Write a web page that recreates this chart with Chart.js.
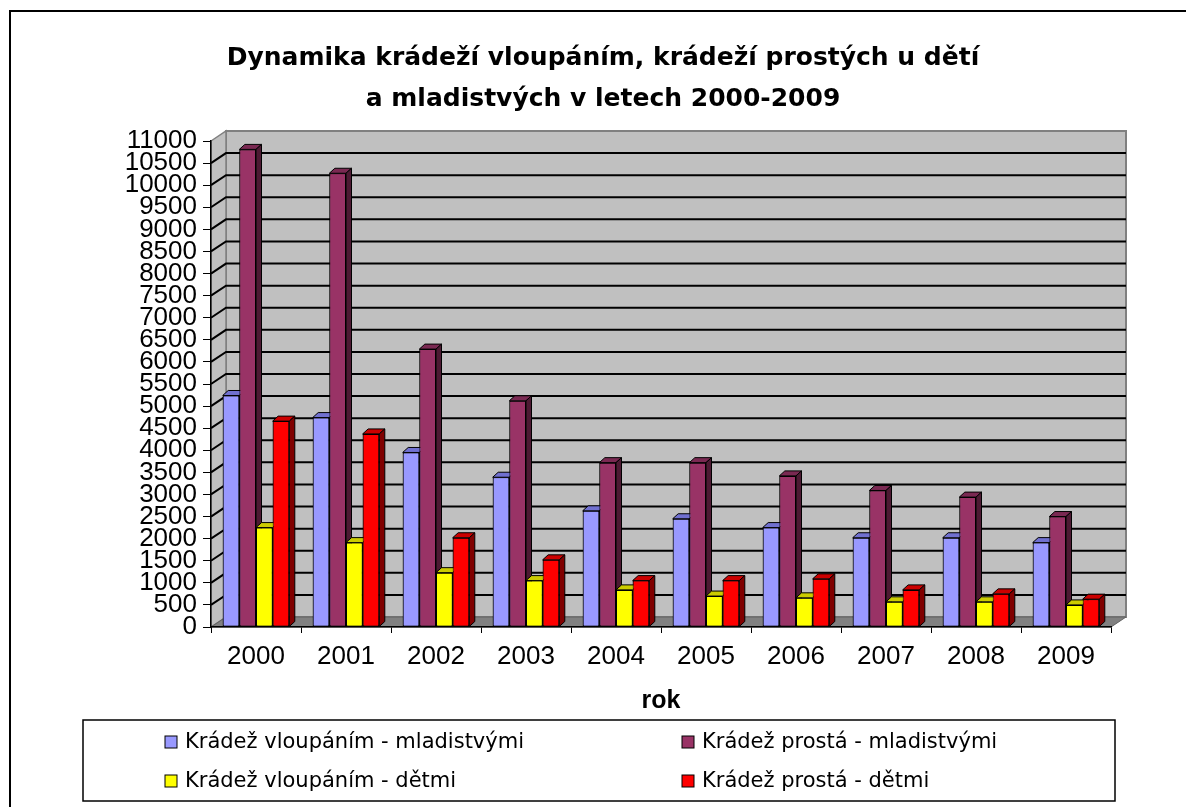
<!DOCTYPE html>
<html>
<head>
<meta charset="utf-8">
<script src="https://cdn.jsdelivr.net/npm/chart.js@4/dist/chart.umd.min.js"></script>
<style>
  html, body { margin: 0; padding: 0; background: #fff; }
  canvas { display: block; }
</style>
</head>
<body>
<canvas id="chart_kradeze" width="1186" height="807"></canvas>
<script>
// data
var years = ['2000', '2001', '2002', '2003', '2004', '2005', '2006', '2007', '2008', '2009'];
var vloupaniMladistvi = [5240, 4740, 3950, 3390, 2630, 2450, 2250, 2020, 2020, 1910];
var prostaMladistvi = [10810, 10270, 6290, 5120, 3720, 3720, 3420, 3090, 2940, 2500];
var vloupaniDeti = [2250, 1910, 1230, 1050, 840, 700, 660, 570, 570, 500];
var prostaDeti = [4660, 4370, 2020, 1520, 1050, 1050, 1090, 840, 750, 630];
var seriesNames = [
    'Krádež vloupáním - mladistvými',
    'Krádež prostá - mladistvými',
    'Krádež vloupáním - dětmi',
    'Krádež prostá - dětmi'
];
var titleLines = ['Dynamika krádeží vloupáním, krádeží prostých u dětí', 'a mladistvých v letech 2000-2009'];

var frontColors = ['#9999FF', '#993366', '#FFFF00', '#FF0000'];
var topColors = ['#7070D0', '#7A2952', '#CCCC00', '#CC0000'];
var sideColors = ['#4D4D80', '#4D1A33', '#808000', '#800000'];

function poly(ctx, pts, fill, stroke, lw) {
    ctx.beginPath();
    ctx.moveTo(pts[0][0], pts[0][1]);
    for (var i = 1; i < pts.length; i++) ctx.lineTo(pts[i][0], pts[i][1]);
    ctx.closePath();
    if (fill) { ctx.fillStyle = fill; ctx.fill(); }
    if (stroke) { ctx.strokeStyle = stroke; ctx.lineWidth = lw || 1; ctx.stroke(); }
}

var makeDataset = function(label, values, i) {
    return {
        label: label,
        data: values,
        backgroundColor: frontColors[i],
        borderColor: '#000',
        borderWidth: 1,
        borderSkipped: false,
        categoryPercentage: 0.74,
        barPercentage: 1.0
    };
};

var chart_kradeze = new Chart(document.getElementById('chart_kradeze'), {
    type: 'bar',
    data: {
        labels: years,
        datasets: [
            makeDataset(seriesNames[0], vloupaniMladistvi, 0),
            makeDataset(seriesNames[1], prostaMladistvi, 1),
            makeDataset(seriesNames[2], vloupaniDeti, 2),
            makeDataset(seriesNames[3], prostaDeti, 3)
        ]
    },
    options: {
        animation: false,
        responsive: false,
        devicePixelRatio: 1,
        layout: {
            padding: { left: 95, right: 75, top: 10, bottom: 90 }
        },
        plugins: {
            legend: { display: false },
            tooltip: { enabled: false },
            title: {
                display: true,
                text: titleLines,
                color: '#000',
                font: { family: '"DejaVu Sans"', size: 25, weight: 'bold', lineHeight: 1.64 },
                padding: { top: 28, bottom: 21 }
            }
        },
        scales: {
            x: {
                grid: { drawOnChartArea: false, drawTicks: true, tickLength: 6, color: '#000', offset: true },
                border: { display: true, color: '#000', width: 1.5 },
                ticks: {
                    color: '#000',
                    padding: 8,
                    font: { family: '"Liberation Sans", Arial, sans-serif', size: 26 }
                },
                title: {
                    display: true,
                    text: 'rok',
                    color: '#000',
                    font: { family: '"Liberation Sans", Arial, sans-serif', size: 25, weight: 'bold' },
                    padding: { top: 0, bottom: 1 }
                },
                afterFit: function(scale) { scale.height = 90; }
            },
            y: {
                min: 0,
                max: 11000,
                grid: { drawOnChartArea: false, drawTicks: true, tickLength: 8, color: '#000' },
                border: { display: true, color: '#000', width: 1.5 },
                ticks: {
                    stepSize: 500,
                    autoSkip: false,
                    color: '#000',
                    padding: 6,
                    font: { family: '"Liberation Sans", Arial, sans-serif', size: 26 },
                    callback: function(value) { return String(value); }
                },
                afterFit: function(scale) { scale.width = 116; }
            }
        }
    },
    plugins: [{
        id: 'walls',
        beforeDraw: function(chart) {
            var ctx = chart.ctx, a = chart.chartArea, ys = chart.scales.y;
            var dx = 15, dy = 10;
            ctx.save();
            ctx.fillStyle = '#fff';
            ctx.fillRect(0, 0, chart.width, chart.height);
            // outer frame
            ctx.strokeStyle = '#000';
            ctx.lineWidth = 2;
            ctx.strokeRect(10, 11, chart.width + 20, chart.height + 20);
            // back wall, side wall, floor
            poly(ctx, [[a.left + dx, a.top - dy], [a.right + dx, a.top - dy], [a.right + dx, a.bottom - dy], [a.left + dx, a.bottom - dy]], '#C0C0C0', '#808080', 2);
            poly(ctx, [[a.left, a.top], [a.left + dx, a.top - dy], [a.left + dx, a.bottom - dy], [a.left, a.bottom]], '#C0C0C0', '#808080', 1.5);
            poly(ctx, [[a.left, a.bottom], [a.left + dx, a.bottom - dy], [a.right + dx, a.bottom - dy], [a.right, a.bottom]], '#808080', '#606060', 1);
            // gridlines bent along side wall
            ctx.strokeStyle = '#000';
            ctx.lineWidth = 2;
            ys.ticks.forEach(function(t) {
                if (t.value <= ys.min || t.value >= ys.max) return;
                var py = ys.getPixelForValue(t.value);
                ctx.beginPath();
                ctx.moveTo(a.left, py);
                ctx.lineTo(a.left + dx, py - dy);
                ctx.lineTo(a.right + dx, py - dy);
                ctx.stroke();
            });
            ctx.restore();
        },
        afterDatasetsDraw: function(chart) {
            var ctx = chart.ctx;
            var dx = 5.5, dy = 5;
            ctx.save();
            chart.data.datasets.forEach(function(ds, i) {
                chart.getDatasetMeta(i).data.forEach(function(bar) {
                    var p = bar.getProps(['x', 'y', 'base', 'width'], true);
                    var l = p.x - p.width / 2, r = p.x + p.width / 2;
                    bar.draw(ctx);
                    poly(ctx, [[l, p.y], [l + dx, p.y - dy], [r + dx, p.y - dy], [r, p.y]], topColors[i], '#000', 1);
                    poly(ctx, [[r, p.y], [r + dx, p.y - dy], [r + dx, p.base - dy], [r, p.base]], sideColors[i], '#000', 1);
                });
            });
            ctx.restore();
        },
        afterDraw: function(chart) {
            // two-column legend in a framed box
            var ctx = chart.ctx;
            var top = chart.scales.x.bottom + 3, bottom = chart.height - 6;
            var left = 83, right = 1115;
            var cols = [165, 682], rows = [top + 22, top + 61];
            ctx.save();
            ctx.strokeStyle = '#000';
            ctx.lineWidth = 1.5;
            ctx.strokeRect(left, top, right - left, bottom - top);
            ctx.font = '21px "DejaVu Sans"';
            ctx.textBaseline = 'middle';
            ctx.textAlign = 'left';
            chart.data.datasets.forEach(function(ds, i) {
                var x = cols[i % 2], y = rows[Math.floor(i / 2)];
                ctx.fillStyle = frontColors[i];
                ctx.fillRect(x, y - 6, 12, 12);
                ctx.lineWidth = 1;
                ctx.strokeRect(x, y - 6, 12, 12);
                ctx.fillStyle = '#000';
                ctx.fillText(ds.label, x + 20, y + 1);
            });
            ctx.restore();
        }
    }]
});
</script>
</body>
</html>
